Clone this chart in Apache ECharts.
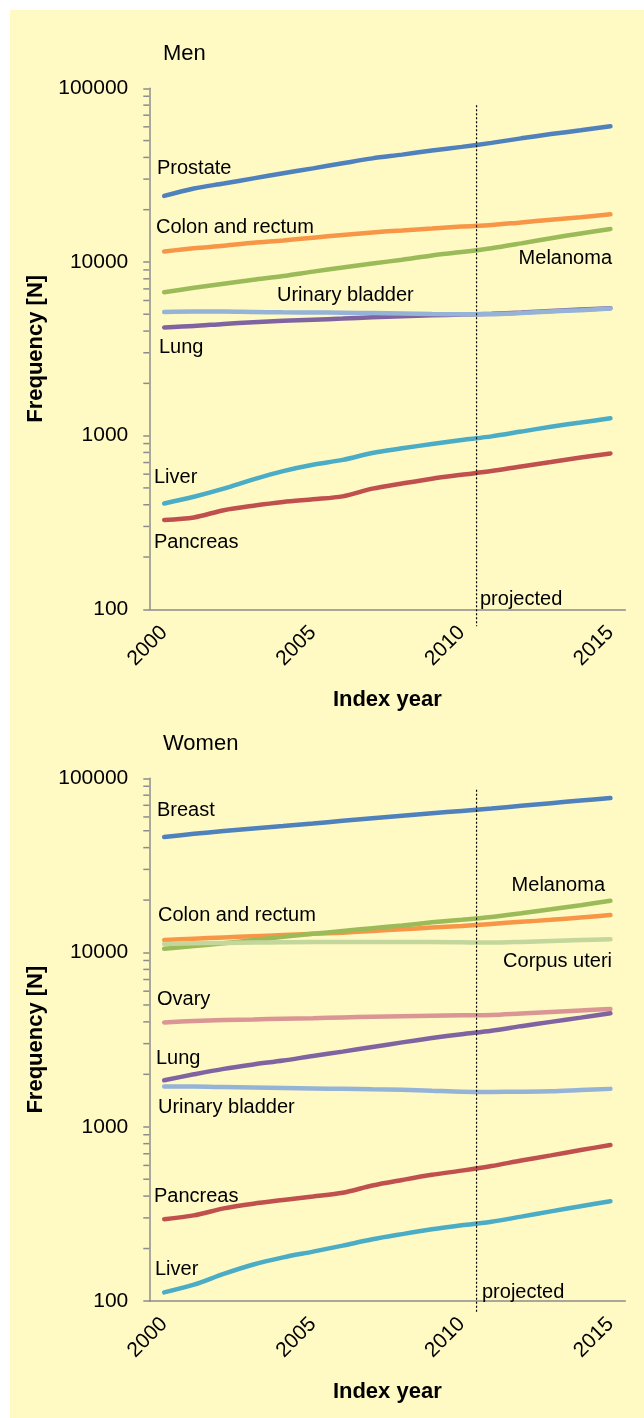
<!DOCTYPE html>
<html><head><meta charset="utf-8">
<script src="https://cdn.jsdelivr.net/npm/echarts@6/dist/echarts.min.js"></script>
<style>html,body{margin:0;padding:0;background:#fff}#c{width:644px;height:1418px}</style>
</head><body><div id="c"></div><script>
const years = ['2000','2001','2002','2003','2004','2005','2006','2007','2008','2009','2010','2011','2012','2013','2014','2015'];
const tickYears = ['2000','2005','2010','2015'];
const minorTickValues = [200,300,400,500,600,700,800,900,2000,3000,4000,5000,6000,7000,8000,9000,20000,30000,40000,50000,60000,70000,80000,90000];

// Men
const menProstate = [24000,26500,28300,30300,32400,34600,37000,39500,41500,43800,46000,48500,51500,54500,57300,60500];
const menColon = [11500,12000,12400,12900,13300,13800,14300,14800,15200,15600,16000,16300,16900,17500,18100,18800];
const menMelanoma = [6700,7100,7500,7900,8300,8800,9300,9800,10300,10900,11400,12000,12800,13700,14600,15500];
const menLung = [4200,4280,4400,4500,4580,4650,4720,4800,4870,4930,4980,5030,5120,5220,5320,5420];
const menBladder = [5150,5180,5180,5150,5130,5120,5100,5080,5050,5020,5000,5000,5080,5180,5280,5400];
const menLiver = [407,445,495,560,625,680,725,795,845,895,945,990,1055,1125,1190,1260];
const menPancreas = [327,338,372,395,415,430,447,495,530,565,595,625,665,705,748,790];
const menProjected = [[11,80000],[11,80]];

// Women
const womenBreast = [46000,48000,49800,51500,53200,55000,57000,59000,61000,63000,65000,67000,69500,72000,74500,77000];
const womenColon = [11800,12000,12200,12400,12600,12800,13000,13300,13600,13900,14200,14600,15000,15400,15900,16400];
const womenMelanoma = [10500,10900,11300,11800,12300,12800,13300,13800,14300,14900,15400,16000,16800,17700,18700,19800];
const womenCorpus = [11200,11300,11350,11400,11450,11500,11500,11500,11500,11500,11450,11400,11500,11650,11800,11900];
const womenOvary = [3970,4050,4100,4130,4170,4200,4240,4280,4310,4340,4360,4380,4470,4560,4650,4740];
const womenLung = [1850,2000,2150,2280,2400,2550,2700,2870,3050,3230,3400,3560,3780,4000,4230,4480];
const womenBladder = [1700,1700,1690,1680,1670,1660,1650,1640,1630,1610,1590,1585,1590,1600,1625,1650];
const womenPancreas = [295,310,340,362,380,398,418,460,495,530,560,595,640,685,735,785];
const womenLiver = [112,124,143,162,178,192,208,226,242,258,272,285,305,327,350,374];
const womenProjected = [[11,86000],[11,86]];

const C = {blue:'#4f81bd', orange:'#f79646', green:'#9bbb59', lblue:'#95b3d7', purple:'#8064a2', teal:'#4bacc6', red:'#c0504d', pink:'#d99694', pgreen:'#c3d69b'};
const FONT = 'Liberation Sans, Arial, sans-serif';
const AX = '#8c8c8c';

const chart = echarts.init(document.getElementById('c'));

function xCat(grid){
  return {type:'category', gridIndex:grid, data:years, boundaryGap:true,
    axisLine:{lineStyle:{color:AX,width:1.5}},
    axisTick:{interval:0,length:6,lineStyle:{color:AX,width:1.5}},
    axisLabel:{interval:(i,v)=>tickYears.includes(v), rotate:45, margin:20, fontSize:21, color:'#000', fontFamily:FONT},
    name:'Index year', nameLocation:'middle', nameGap:80,
    nameTextStyle:{fontSize:22,fontWeight:'bold',color:'#000',fontFamily:FONT}};
}
function xVal(grid){ return {type:'value', gridIndex:grid, min:0, max:16, show:false}; }
function yLog(grid){
  return {type:'log', logBase:10, gridIndex:grid, min:100, max:100000, splitNumber:3,
    splitLine:{show:false},
    axisLine:{show:true,lineStyle:{color:AX,width:1.5}},
    axisTick:{show:true,length:6,lineStyle:{color:AX,width:1.5}},
    axisLabel:{fontSize:21,color:'#000',margin:21,fontFamily:FONT, formatter:v=>String(Math.round(v))},
    name:'Frequency [N]', nameLocation:'middle', nameGap:96,
    nameTextStyle:{fontSize:22,fontWeight:'bold',color:'#000',fontFamily:FONT}};
}
function line(name, data, color, xi, yi){
  return {name, type:'line', data, xAxisIndex:xi, yAxisIndex:yi, symbol:'none', smooth:0.3,
    lineStyle:{color, width:4.5, cap:'round'}, z:3, silent:true};
}
function projLine(data, xi, yi){
  return {type:'line', data, xAxisIndex:xi, yAxisIndex:yi, symbol:'none', clip:false, silent:true,
    lineStyle:{color:'#000', width:1.2, type:[2,2]}, z:4};
}
function minorTicks(xi, yi){
  return {type:'custom', xAxisIndex:xi, yAxisIndex:yi, silent:true, clip:false,
    data:minorTickValues.map(v=>[0,v]),
    renderItem:(params, api)=>{
      const y = api.coord([0, api.value(1)])[1];
      const x0 = params.coordSys.x;
      return {type:'line', shape:{x1:x0-6,y1:y,x2:x0,y2:y}, style:{stroke:AX,lineWidth:1.5}};
    }};
}

const labels = [
  {t:'Men', x:163, y:54, s:22},
  {t:'Prostate', x:157, y:168},
  {t:'Colon and rectum', x:156, y:227},
  {t:'Melanoma', x:612, y:258, a:'right'},
  {t:'Urinary bladder', x:277, y:295},
  {t:'Lung', x:159, y:347},
  {t:'Liver', x:154, y:477},
  {t:'Pancreas', x:154, y:542},
  {t:'projected', x:480, y:599},
  {t:'Women', x:163, y:744, s:22},
  {t:'Breast', x:157, y:810},
  {t:'Colon and rectum', x:158, y:915},
  {t:'Melanoma', x:605, y:885, a:'right'},
  {t:'Corpus uteri', x:612, y:961, a:'right'},
  {t:'Ovary', x:157, y:999},
  {t:'Lung', x:156, y:1058},
  {t:'Urinary bladder', x:158, y:1107},
  {t:'Pancreas', x:154, y:1196},
  {t:'Liver', x:155, y:1269},
  {t:'projected', x:482, y:1292}
];

const graphic = [
  {type:'rect', left:10, top:10, shape:{width:634,height:1408}, style:{fill:'#fff9c4'}, z:-10, silent:true}
].concat(labels.map(l=>({type:'text', x:l.x, y:l.y, z:10, silent:true,
  style:{text:l.t, fontSize:l.s||20, fontFamily:FONT, fill:'#000', textAlign:l.a||'left', textVerticalAlign:'middle'}})));

chart.setOption({
  animation:false,
  backgroundColor:'#ffffff',
  graphic,
  grid:[
    {left:149.3, top:88.3, width:476, height:521},
    {left:149.3, top:778.3, width:476, height:522.7}
  ],
  xAxis:[xCat(0), xVal(0), xCat(1), xVal(1)],
  yAxis:[yLog(0), yLog(1)],
  series:[
    minorTicks(0,0),
    line('Prostate', menProstate, C.blue, 0, 0),
    line('Colon and rectum', menColon, C.orange, 0, 0),
    line('Melanoma', menMelanoma, C.green, 0, 0),
    line('Lung', menLung, C.purple, 0, 0),
    line('Urinary bladder', menBladder, C.lblue, 0, 0),
    line('Liver', menLiver, C.teal, 0, 0),
    line('Pancreas', menPancreas, C.red, 0, 0),
    projLine(menProjected, 1, 0),
    minorTicks(2,1),
    line('Breast', womenBreast, C.blue, 2, 1),
    line('Colon and rectum', womenColon, C.orange, 2, 1),
    line('Melanoma', womenMelanoma, C.green, 2, 1),
    line('Corpus uteri', womenCorpus, C.pgreen, 2, 1),
    line('Ovary', womenOvary, C.pink, 2, 1),
    line('Lung', womenLung, C.purple, 2, 1),
    line('Urinary bladder', womenBladder, C.lblue, 2, 1),
    line('Pancreas', womenPancreas, C.red, 2, 1),
    line('Liver', womenLiver, C.teal, 2, 1),
    projLine(womenProjected, 3, 1)
  ]
});
</script></body></html>
